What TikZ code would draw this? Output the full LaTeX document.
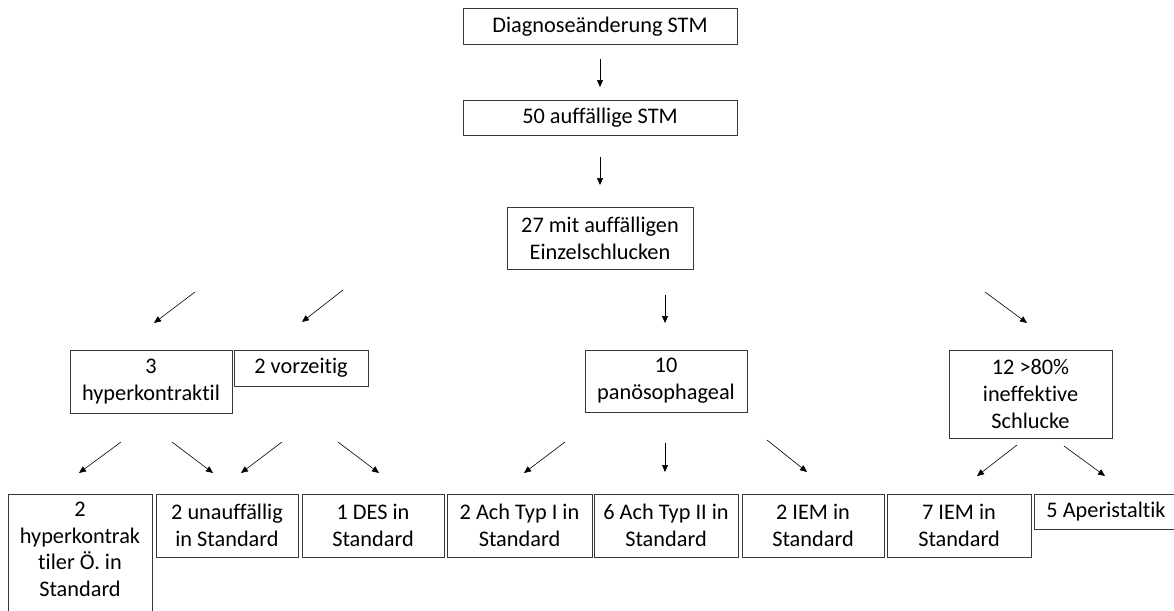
\documentclass[tikz,border=0pt]{standalone}
\usepackage{fontspec}
\setmainfont{Carlito}[Ligatures=NoCommon]
\usetikzlibrary{arrows.meta}
\begin{document}
\begin{tikzpicture}[x=1pt,y=-1pt,
  box/.style={draw=black!78, line width=1pt, align=center, inner sep=2pt,
    font=\fontsize{22.3}{26.7}\selectfont},
  flow/.style={line width=0.6pt, -{Triangle[length=7pt,width=6pt]}}]
\useasboundingbox (0,0) rectangle (1174,610);
\clip (0,0) rectangle (1174,610);

% top chain
\node[box, minimum width=274, minimum height=36] (diag) at (600,27) {Diagnoseänderung STM};
\node[box, minimum width=274, minimum height=35] (stm) at (600,117.5) {50 auffällige STM};
\node[box, minimum width=186, minimum height=62] (einz) at (600,238) {27 mit auffälligen\\Einzelschlucken};

% second level
\node[box, minimum width=162, minimum height=63] (hyp) at (151,381.5) {3\\hyperkontraktil};
\node[box, minimum width=134, minimum height=36] (vor) at (301,368) {2 vorzeitig};
\node[box, minimum width=162, minimum height=62] (pan) at (666,381) {10\\panösophageal};
\node[box, minimum width=163, minimum height=88] (ineff) at (1030.5,394) {12 >80\%\\ineffektive\\Schlucke};

% third level
\node[box, anchor=north, minimum width=144, minimum height=140] (hypstd) at (80,494)
  {\parbox[c][128pt][t]{138pt}{\centering\vspace*{1.5pt}2\\hyperkontrak\\tiler Ö. in\\Standard}};
\node[box, minimum width=142, minimum height=63] (unauf) at (227,525.5) {2 unauffällig\\in Standard};
\node[box, minimum width=142, minimum height=63] (des) at (373,525.5) {1 DES in\\Standard};
\node[box, minimum width=145, minimum height=63] (achI) at (519.5,525.5) {2 Ach Typ I in\\Standard};
\node[box, minimum width=144, minimum height=63] (achII) at (666,525.5) {6 Ach Typ II in\\Standard};
\node[box, minimum width=142, minimum height=63] (iemA) at (813,525.5) {2 IEM in\\Standard};
\node[box, minimum width=144, minimum height=63] (iemB) at (959,525.5) {7 IEM in\\Standard};
\node[box, minimum width=144, minimum height=35] (aper) at (1106,511.5) {5 Aperistaltik};

% free-standing arrow ends
\coordinate (s1) at (600,59);   \coordinate (e1) at (600,87);
\coordinate (s2) at (600,157);  \coordinate (e2) at (600,185);
\coordinate (s3) at (195,292);  \coordinate (e3) at (154,323);
\coordinate (s4) at (343,290);  \coordinate (e4) at (302,322);
\coordinate (s5) at (665,295);  \coordinate (e5) at (665,323);
\coordinate (s6) at (985,292);  \coordinate (e6) at (1027,323);
\coordinate (s7) at (121,442);  \coordinate (e7) at (79,473);
\coordinate (s8) at (172,442);  \coordinate (e8) at (213,473);
\coordinate (s9) at (282,442);  \coordinate (e9) at (241,473);
\coordinate (s10) at (338,442); \coordinate (e10) at (379,473);
\coordinate (s11) at (565,442); \coordinate (e11) at (524,473);
\coordinate (s12) at (665,443); \coordinate (e12) at (665,472);
\coordinate (s13) at (767,440); \coordinate (e13) at (807,472);
\coordinate (s14) at (1017,445);\coordinate (e14) at (977,476);
\coordinate (s15) at (1064,446);\coordinate (e15) at (1105,476);

\foreach \i in {1,...,15} { \draw[flow] (s\i) -- (e\i); }
\end{tikzpicture}
\end{document}
